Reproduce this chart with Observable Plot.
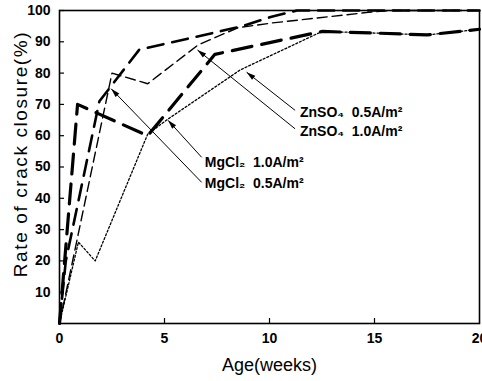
<!DOCTYPE html>
<html>
<head>
<meta charset="utf-8">
<script src="https://cdn.jsdelivr.net/npm/d3@7"></script>
<script src="https://cdn.jsdelivr.net/npm/@observablehq/plot@0.6"></script>
<style>
  body { margin: 0; background: #fff; }
  #chart svg { display: block; }
  .ylab text { letter-spacing: 1.6px; }
</style>
</head>
<body>
<div id="chart"></div>
<script>
// ---- data ----
const xTicks = [0, 5, 10, 15, 20];
const yTicks = [10, 20, 30, 40, 50, 60, 70, 80, 90, 100];
const xLabel = "Age(weeks)";
const yLabel = "Rate of crack closure(%)";

// MgCl2 1.0 A/m2 (thick long dash)
const mg10Weeks = [0, 0.86, 4.2, 7.4, 12.5, 15, 17.5, 20];
const mg10Rate  = [0, 70, 60, 86, 93.3, 92.8, 92.2, 94];
// MgCl2 0.5 A/m2 (thick medium dash)
const mg05Weeks = [0, 0.3, 1.9, 3.8, 7.1, 8.7, 10.1, 11.3, 20];
const mg05Rate  = [0, 20, 71, 87.5, 92.5, 95, 98, 100, 100];
// ZnSO4 1.0 A/m2 (thin dash)
const zn10Weeks = [0, 2.5, 4.2, 6.6, 8.5, 10.1, 14.7, 15.8, 20];
const zn10Rate  = [0, 80, 76.6, 89, 94.5, 96, 99.4, 100, 100];
// ZnSO4 0.5 A/m2 (dotted)
const zn05Weeks = [0, 0.9, 1.7, 4.2, 5.1, 8.6, 12.5, 15, 17.5, 20];
const zn05Rate  = [0, 26, 20, 60.5, 65, 81, 93.3, 92.8, 92.2, 94];

// annotations
const noteText = ["ZnSO\u2084\u00a0\u00a00.5A/m\u00b2", "ZnSO\u2084\u00a0\u00a01.0A/m\u00b2", "MgCl\u2082\u00a0\u00a01.0A/m\u00b2", "MgCl\u2082\u00a0\u00a00.5A/m\u00b2"];
const noteWeek = [11.45, 11.45, 6.92, 6.92];
const noteRate = [67.3, 61.2, 51.4, 44.6];
const arrowFromWeek = [11.22, 11.22, 6.77, 6.77];
const arrowFromRate = [68.1, 62.2, 53.1, 45.1];
const arrowToWeek = [8.91, 6.57, 5.17, 2.46];
const arrowToRate = [80.3, 87.4, 64.9, 75];

// ---- build ----
const toRows = (ws, rs) => ws.map((w, i) => ({w, r: rs[i]}));
const notes = noteText.map((t, i) => ({t, x: noteWeek[i], y: noteRate[i]}));
const arrows = arrowToWeek.map((w, i) => ({x1: arrowFromWeek[i], y1: arrowFromRate[i], x2: w, y2: arrowToRate[i]}));

const W = 482, H = 381, mL = 59, mR = 3, mT = 10, mB = 58;
const frameW = W - mL - mR, frameH = H - mT - mB;
const sans = "'Liberation Sans', Arial, sans-serif";

const chart = Plot.plot({
  width: W, height: H,
  marginLeft: mL, marginRight: mR, marginTop: mT, marginBottom: mB,
  style: {fontFamily: sans, color: "#000", background: "#fff"},
  x: {domain: [0, 20]},
  y: {domain: [0, 100]},
  marks: [
    Plot.axisY({ticks: yTicks, tickSize: 0, tickPadding: 9, fontSize: 14, fontWeight: "bold", label: null}),
    Plot.axisX({ticks: xTicks, tickSize: 0, tickPadding: 10, fontSize: 14, fontWeight: "bold", label: null}),
    Plot.tickY(yTicks, {y: d => d, insetRight: frameW - 5, strokeWidth: 1.2}),
    Plot.tickX(xTicks.slice(1, -1), {x: d => d, insetTop: frameH - 5, strokeWidth: 1.2}),
    Plot.line(toRows(zn05Weeks, zn05Rate), {x: "w", y: "r", stroke: "#000", strokeWidth: 1.3, strokeDasharray: "2,2"}),
    Plot.line(toRows(zn10Weeks, zn10Rate), {x: "w", y: "r", stroke: "#000", strokeWidth: 1.4, strokeDasharray: "10,5"}),
    Plot.line(toRows(mg05Weeks, mg05Rate), {x: "w", y: "r", stroke: "#000", strokeWidth: 2.6, strokeDasharray: "16,9"}),
    Plot.line(toRows(mg10Weeks, mg10Rate), {x: "w", y: "r", stroke: "#000", strokeWidth: 3.2, strokeDasharray: "20,10"}),
    Plot.link(arrows, {x1: "x1", y1: "y1", x2: "x2", y2: "y2", stroke: "#000", strokeWidth: 1, markerEnd: "arrow"}),
    Plot.text(notes, {x: "x", y: "y", text: "t", textAnchor: "start", lineAnchor: "middle", fontSize: 14, fontWeight: "bold", fill: "#000"}),
    Plot.text([xLabel], {text: d => d, frameAnchor: "bottom", textAnchor: "middle", dy: 42, lineAnchor: "middle", fontSize: 18, fill: "#000"}),
    Plot.text([yLabel], {text: d => d, frameAnchor: "left", textAnchor: "middle", dx: -39, dy: -13, rotate: -90, lineAnchor: "middle", fontSize: 19, fill: "#000", className: "ylab"}),
    Plot.frame({stroke: "#000", strokeWidth: 1.6})
  ]
});

// filled arrowheads
chart.querySelectorAll("marker").forEach(m => {
  m.setAttribute("viewBox", "-10 -5 11 10");
  m.setAttribute("markerWidth", "11");
  m.setAttribute("markerHeight", "10");
  m.setAttribute("fill", "#000");
  m.setAttribute("stroke", "none");
  m.innerHTML = '<path d="M-9,-2.6L0,0L-9,2.6Z"></path>';
});

document.getElementById("chart").appendChild(chart);
</script>
</body>
</html>
